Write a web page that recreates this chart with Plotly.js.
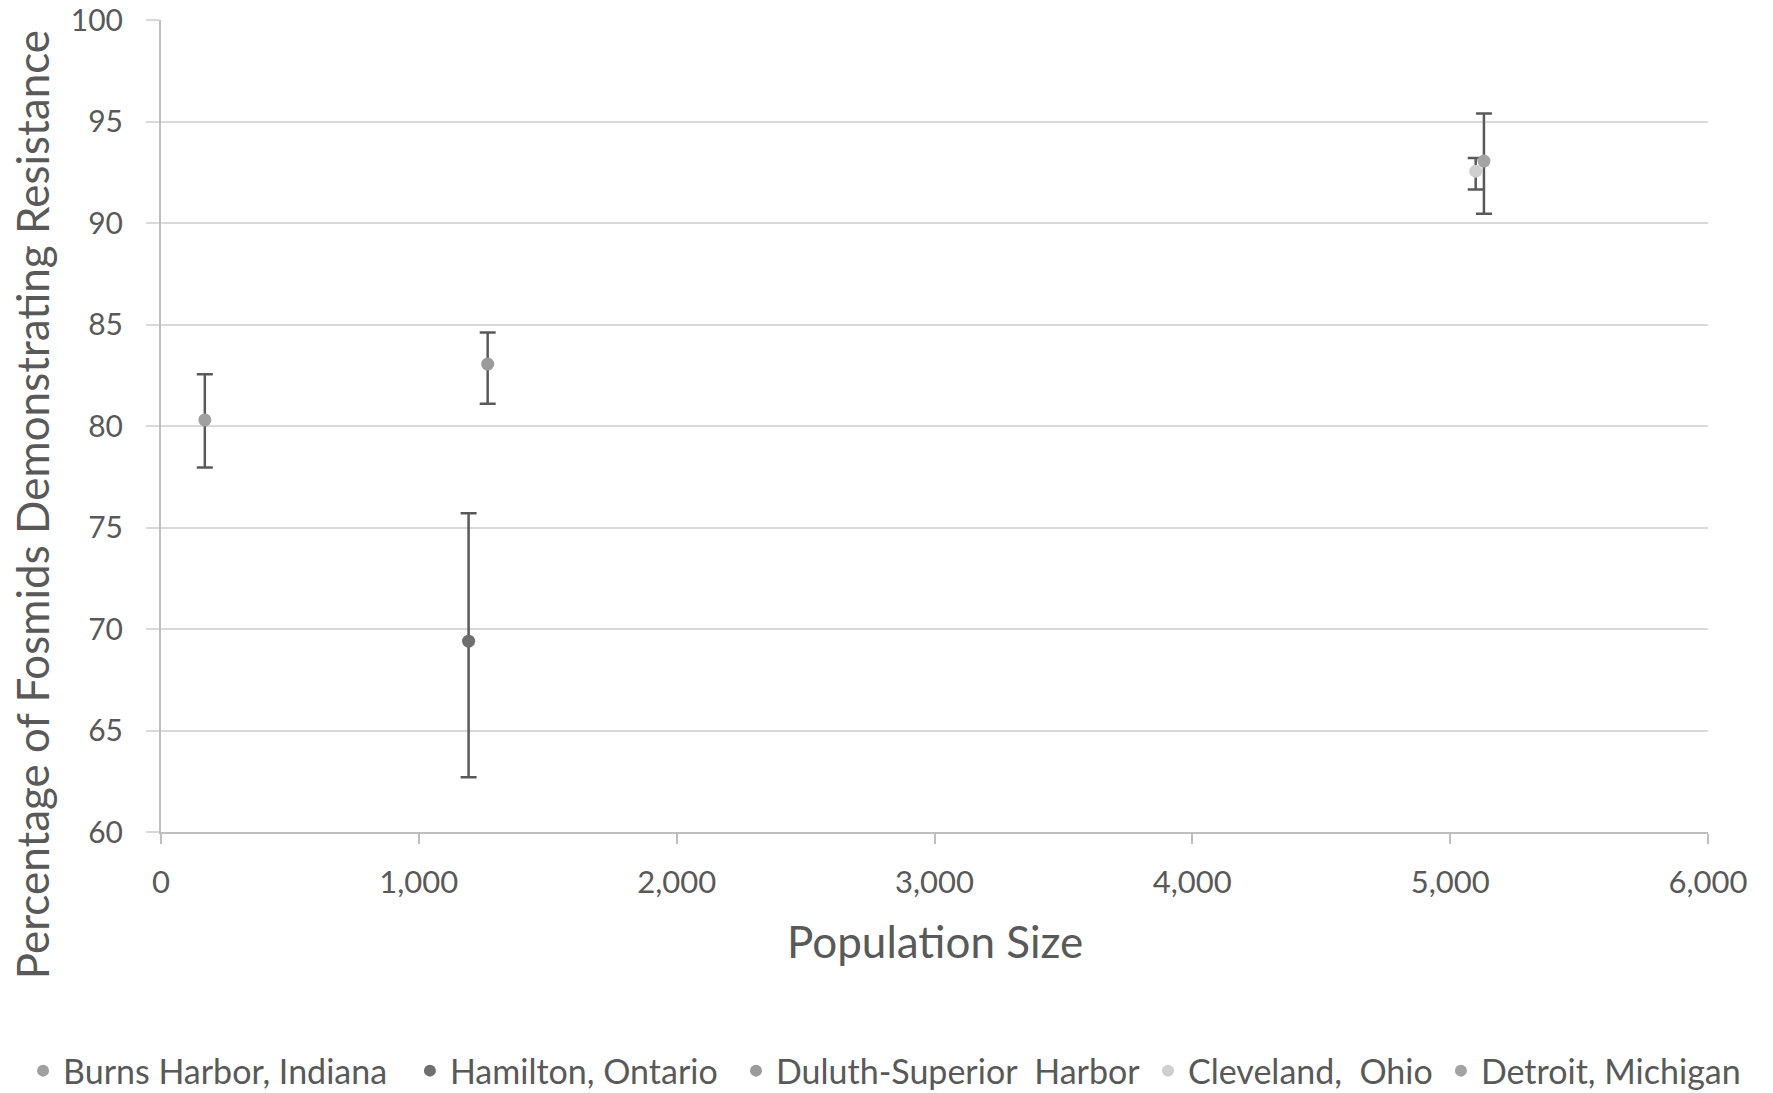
<!DOCTYPE html>
<html>
<head>
<meta charset="utf-8">
<script src="https://cdn.plot.ly/plotly-3.0.1.min.js"></script>
<style>
  html, body { margin: 0; padding: 0; background: #ffffff; }
  #chart { width: 1773px; height: 1093px; }
</style>
</head>
<body>
<div id="chart"></div>
<script>
// Sampling sites, their population size and % of fosmids showing resistance
const sites = ["Burns Harbor, Indiana", "Hamilton, Ontario", "Duluth-Superior  Harbor", "Cleveland,  Ohio", "Detroit, Michigan"];
const population = [170, 1193, 1267, 5099, 5131];
const resistance = [80.3, 69.4, 83.05, 92.55, 93.05];
const errPlus = [2.25, 6.3, 1.55, 0.65, 2.35];
const errMinus = [2.35, 6.7, 1.95, 0.9, 2.6];
const markerColors = ["#a0a0a0", "#6f6f6f", "#9b9b9b", "#cfcfcf", "#a3a3a3"];

const yTicks = [60, 65, 70, 75, 80, 85, 90, 95, 100];
const xTicks = [0, 1000, 2000, 3000, 4000, 5000, 6000];
const xTitle = "Population Size";
const yTitle = "Percentage of Fosmids Demonstrating Resistance";

const FONT = "Lato, 'Open Sans', sans-serif";
const TEXT = "#595959";

// each site gets its own one-entry legend so the entries sit spread along the bottom
const legendIds = ["legend", "legend2", "legend3", "legend4", "legend5"];
const legendLeft = [0.013, 0.2312, 0.4151, 0.6475, 0.8127];

const traces = sites.map((name, i) => ({
  type: "scatter",
  mode: "markers",
  name: name,
  legend: legendIds[i],
  x: [population[i]],
  y: [resistance[i]],
  marker: { color: markerColors[i], size: 13 },
  error_y: {
    type: "data",
    symmetric: false,
    array: [errPlus[i]],
    arrayminus: [errMinus[i]],
    color: "#595959",
    thickness: 2.5,
    width: 8
  },
  hoverinfo: "x+y+name"
}));

const layout = {
  width: 1773,
  height: 1093,
  paper_bgcolor: "#ffffff",
  plot_bgcolor: "#ffffff",
  margin: { l: 161, r: 65, t: 20, b: 261, autoexpand: false },
  font: { family: FONT, color: TEXT, size: 30 },
  showlegend: true,
  xaxis: {
    range: [0, 6000],
    tickvals: xTicks,
    tickformat: ",d",
    showgrid: false,
    zeroline: false,
    showline: true,
    linecolor: "#bfbfbf",
    linewidth: 2,
    ticks: "outside",
    ticklen: 10,
    tickwidth: 2,
    tickcolor: "#bfbfbf",
    ticklabelstandoff: 12,
    automargin: false,
    tickfont: { family: FONT, size: 31, color: TEXT }
  },
  yaxis: {
    range: [60, 100],
    tickvals: yTicks,
    showgrid: true,
    gridcolor: "#d9d9d9",
    gridwidth: 2,
    zeroline: false,
    showline: true,
    linecolor: "#bfbfbf",
    linewidth: 2,
    ticks: "outside",
    ticklen: 13,
    tickwidth: 2,
    tickcolor: "#d9d9d9",
    ticklabelstandoff: 17,
    automargin: false,
    tickfont: { family: FONT, size: 30, color: TEXT }
  },
  annotations: [
    {
      text: xTitle, xref: "paper", yref: "paper", x: 0.5, y: -0.134,
      xanchor: "center", yanchor: "middle", showarrow: false,
      font: { family: FONT, size: 44, color: TEXT }
    },
    {
      text: yTitle, xref: "paper", yref: "paper", x: -0.0833, y: 0.4025,
      xanchor: "center", yanchor: "middle", showarrow: false, textangle: -90,
      font: { family: FONT, size: 44, color: TEXT }
    }
  ]
};

legendIds.forEach((id, i) => {
  layout[id] = {
    orientation: "h",
    xref: "container",
    yref: "container",
    x: legendLeft[i],
    xanchor: "left",
    y: 0.0201,
    yanchor: "middle",
    font: { family: FONT, size: 34, color: TEXT },
    itemsizing: "constant",
    bgcolor: "rgba(0,0,0,0)",
    borderwidth: 0
  };
});

Plotly.newPlot("chart", traces, layout, { displayModeBar: false, staticPlot: true });
</script>
</body>
</html>
